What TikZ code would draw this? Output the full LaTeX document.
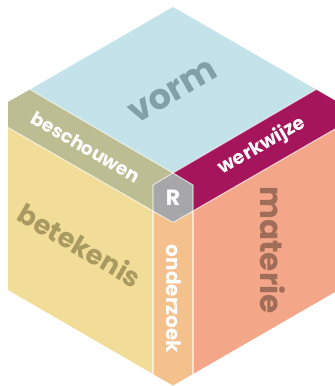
\documentclass[tikz,border=0pt]{standalone}
\usepackage{fontspec}
\setmainfont{Poppins}
\definecolor{cblue}{HTML}{C3E2EA}
\definecolor{colive}{HTML}{BDBD93}
\definecolor{cmag}{HTML}{A5155C}
\definecolor{cyel}{HTML}{F1DD98}
\definecolor{csal}{HTML}{F3A688}
\definecolor{corg}{HTML}{F4C08C}
\definecolor{cgray}{HTML}{A7A7A9}
\definecolor{tvorm}{HTML}{839FA8}
\definecolor{tbet}{HTML}{A89A60}
\definecolor{tmat}{HTML}{A06E58}
\begin{document}
\begin{tikzpicture}[x=1pt,y=-1pt,
  sep/.style={draw=white, draw opacity=0.6, line width=1.1pt, line join=round},
  lbl/.style={font=\bfseries, inner sep=0pt}]
\useasboundingbox (0,0) rectangle (335,386);
% outline and key points
\coordinate (T) at (173,7);
\coordinate (BL) at (30,89.5);
\coordinate (BR) at (316,89.5);
\coordinate (C) at (173,173);
\coordinate (UL) at (8,102);
\coordinate (YL) at (8,127.5);
\coordinate (UR) at (335,100.5);
\coordinate (MR) at (335,129);
\coordinate (HL1) at (153,185);
\coordinate (HL2) at (153,211);
\coordinate (HB) at (173,222.5);
\coordinate (HR1) at (193,185);
\coordinate (HR2) at (193,211);
\coordinate (LL) at (8,290);
\coordinate (LR) at (335,292);
\coordinate (B) at (173,385.5);
\coordinate (BBL) at (153,374);
\coordinate (BBR) at (193,374);
% faces
\fill[cblue] (T) -- (BL) -- (C) -- (BR) -- cycle;
\fill[colive] (UL) -- (BL) -- (C) -- (HL1) -- (HL2) -- (YL) -- cycle;
\fill[cmag] (C) -- (BR) -- (UR) -- (MR) -- (HR2) -- (HR1) -- cycle;
\fill[cyel] (YL) -- (HL2) -- (BBL) -- (LL) -- cycle;
\fill[csal] (HR2) -- (MR) -- (LR) -- (BBR) -- cycle;
\fill[corg] (HL2) -- (HB) -- (HR2) -- (BBR) -- (B) -- (BBL) -- cycle;
\fill[cgray] (C) -- (HL1) -- (HL2) -- (HB) -- (HR2) -- (HR1) -- cycle;
% separators
\draw[sep] (BL) -- (C) -- (BR);
\draw[sep] (YL) -- (HL2);
\draw[sep] (MR) -- (HR2);
\draw[sep] (C) -- (HL1) -- (HL2) -- (HB) -- (HR2) -- (HR1) -- cycle;
\draw[sep] (HL2) -- (BBL);
\draw[sep] (HR2) -- (BBR);
% labels
\node[lbl, text=tvorm, rotate=30, font=\bfseries\fontsize{35}{35}\selectfont] (vorm) at (173,92) {vorm};
\node[lbl, text=white, rotate=-30, font=\bfseries\fontsize{18.5}{18.5}\selectfont] (besch) at (86,147) {beschouwen};
\node[lbl, text=white, rotate=30, font=\bfseries\fontsize{19}{19}\selectfont] (werk) at (262,146) {werkwijze};
\node[lbl, text=tbet, rotate=-30, font=\bfseries\fontsize{27}{27}\selectfont] (betek) at (80,245) {betekenis};
\node[lbl, text=tmat, rotate=-90, font=\bfseries\fontsize{31}{31}\selectfont] (mat) at (273,250) {materie};
\node[lbl, text=white, rotate=-90, font=\bfseries\fontsize{20}{20}\selectfont] (onder) at (174,299) {onderzoek};
\node[lbl, text=white, font=\bfseries\fontsize{22}{22}\selectfont] (R) at (173,198) {R};
\end{tikzpicture}
\end{document}
